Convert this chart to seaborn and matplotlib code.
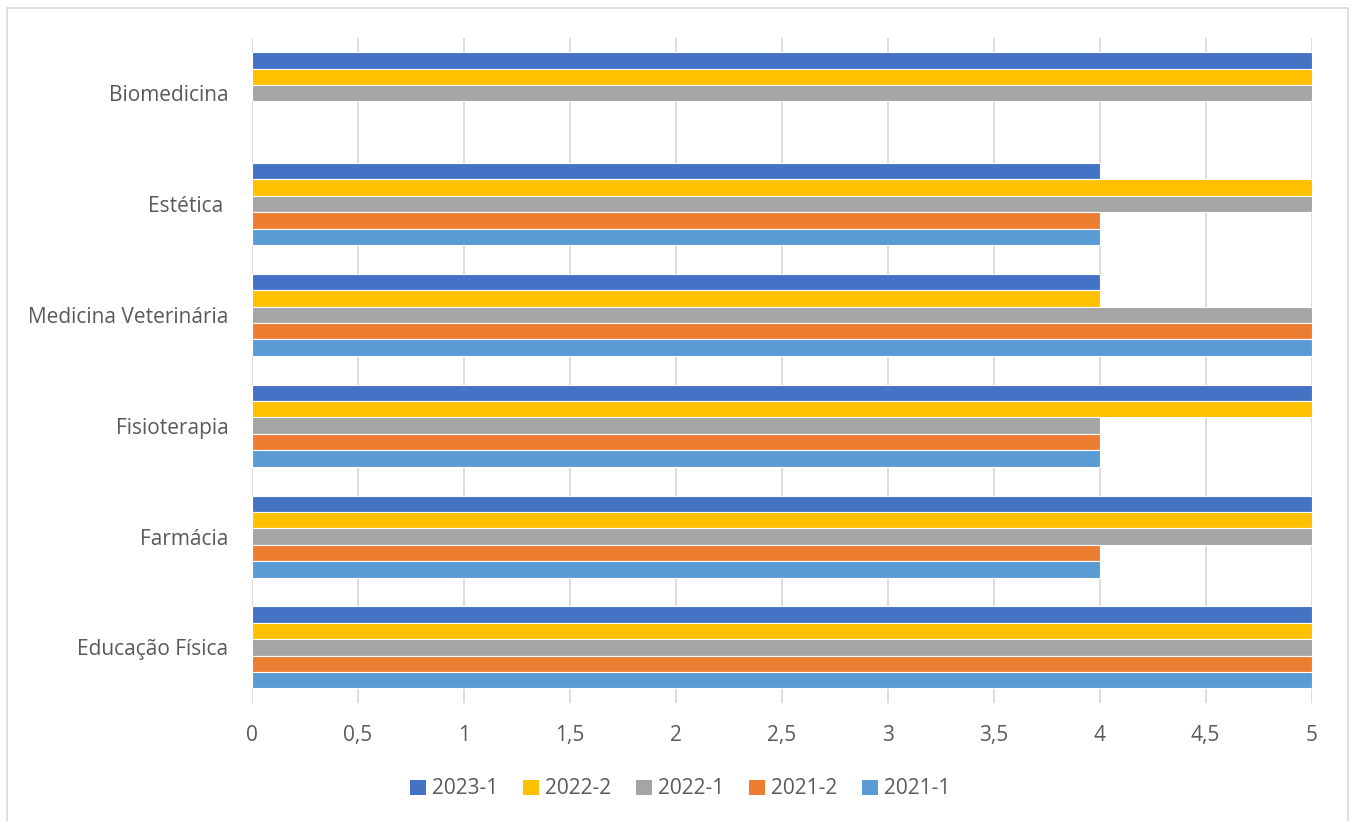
import numpy as np
import pandas as pd
import matplotlib
matplotlib.use("Agg")
import matplotlib.pyplot as plt
import seaborn as sns
from matplotlib.patches import Rectangle, Patch

categories = ["Biomedicina", "Estética ", "Medicina Veterinária", "Fisioterapia", "Farmácia", "Educação Física"]
series = ["2023-1", "2022-2", "2022-1", "2021-2", "2021-1"]
v_2023_1 = [5, 4, 4, 5, 5, 5]
v_2022_2 = [5, 5, 4, 5, 5, 5]
v_2022_1 = [5, 5, 5, 4, 5, 5]
v_2021_2 = [np.nan, 4, 5, 4, 4, 5]
v_2021_1 = [np.nan, 4, 5, 4, 4, 5]
xticks = [0, 0.5, 1, 1.5, 2, 2.5, 3, 3.5, 4, 4.5, 5]
xtick_labels = ["0", "0,5", "1", "1,5", "2", "2,5", "3", "3,5", "4", "4,5", "5"]
colors = ["#4472C4", "#FFC000", "#A5A5A5", "#ED7D31", "#5B9BD5"]

vals = [v_2023_1, v_2022_2, v_2022_1, v_2021_2, v_2021_1]
rows = []
for s, vv in zip(series, vals):
    for c, v in zip(categories, vv):
        rows.append({"Curso": c, "Semestre": s, "Valor": v})
df = pd.DataFrame(rows)

sns.set_theme(style="white")
plt.rcParams["font.family"] = ["Open Sans", "DejaVu Sans"]

fig = plt.figure(figsize=(13.55, 8.21), dpi=100)
ax = fig.add_axes([0.186, 0.144, 0.782, 0.810])

sns.barplot(data=df, y="Curso", x="Valor", hue="Semestre", order=categories,
            hue_order=series, palette=colors, orient="h", width=0.74,
            edgecolor="white", linewidth=0.8, saturation=1, ax=ax, errorbar=None)

ax.set_xlim(0, 5)
ax.set_ylim(len(categories) - 0.5, -0.5)
ax.set_xticks(xticks)
ax.set_xticklabels(xtick_labels)
ax.set_xlabel("")
ax.set_ylabel("")
ax.grid(axis="x", color="#D9D9D9", linewidth=1.3)
ax.set_axisbelow(True)
for sp in ax.spines.values():
    sp.set_visible(False)
ax.tick_params(axis="both", length=0, labelsize=15, labelcolor="#595959")
ax.tick_params(axis="x", pad=16)
ax.tick_params(axis="y", pad=17)

ax.get_legend().remove()
handles = [Patch(facecolor=c, edgecolor="none") for c in colors]
fig.legend(handles, series, loc="center", bbox_to_anchor=(0.502, 0.039), ncol=5,
           frameon=False, fontsize=15, labelcolor="#595959", handlelength=0.75,
           handleheight=0.75, handletextpad=0.3, columnspacing=1.2)

fig.patches.append(Rectangle((0.005, -0.01), 0.99, 1.0, transform=fig.transFigure,
                             fill=False, edgecolor="#D9D9D9", linewidth=1.2))

fig.savefig("out.png", dpi=100)
